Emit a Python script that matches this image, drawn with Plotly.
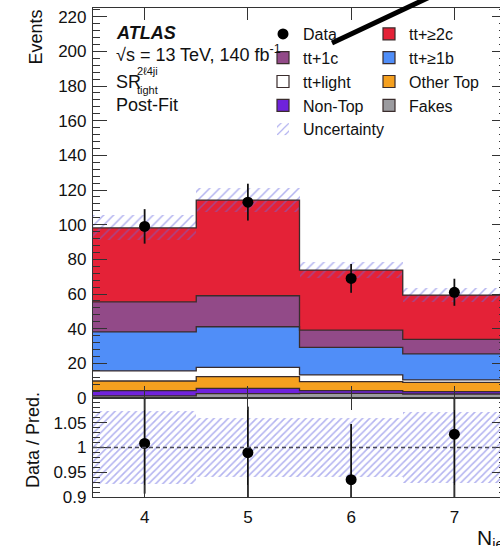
import numpy as np
import plotly.graph_objects as go

# ---------------- data ----------------
bins = [4, 5, 6, 7]
fakes = [1.2, 2.5, 2.7, 2.3]
non_top = [3.0, 3.1, 1.5, 1.4]
other_top = [5.6, 6.7, 5.2, 5.3]
tt_light = [5.8, 5.4, 3.9, 1.5]
tt_ge1b = [22.6, 23.4, 15.9, 14.9]
tt_1c = [17.2, 17.9, 10.0, 8.4]
tt_ge2c = [42.8, 55.2, 34.6, 25.6]
data = [99, 113, 69, 61]
unc_rel = [0.073, 0.060, 0.060, 0.072]

components = [
    ("Fakes", fakes, "#9B9B9F", 8),
    ("Non-Top", non_top, "#6F22DC", 7),
    ("Other Top", other_top, "#F5A01F", 6),
    ("tt+light", tt_light, "#FFFFFF", 5),
    ("tt+≥1b", tt_ge1b, "#508EF8", 4),
    ("tt+1c", tt_1c, "#924A88", 3),
    ("tt+≥2c", tt_ge2c, "#E42237", 2),
]
legend_col = {"Data": "legend", "tt+1c": "legend", "tt+light": "legend",
              "Non-Top": "legend", "Uncertainty": "legend",
              "tt+≥2c": "legend2", "tt+≥1b": "legend2", "Other Top": "legend2",
              "Fakes": "legend2"}

FONT = "Liberation Sans, Arial, Helvetica, sans-serif"
OUTLINE = "#3a2c2c"
HATCH = "rgba(105,105,225,1)"

bins_a = np.array(bins, dtype=float)
edges = np.concatenate([bins_a - 0.5, [bins_a[-1] + 0.5]])

fig = go.Figure()

cum = np.zeros(len(bins))
for name, vals, col, rank in components:
    v = np.array(vals)
    fig.add_trace(go.Bar(x=bins, y=v, base=cum.copy(), width=1,
                         marker=dict(color=col, line=dict(width=0)),
                         showlegend=False, xaxis="x", yaxis="y", hoverinfo="skip"))
    cum = cum + v
    fig.add_trace(go.Scatter(x=edges, y=np.concatenate([cum, [cum[-1]]]),
                             mode="lines", line=dict(color=OUTLINE, width=1.3, shape="hv"),
                             showlegend=False, xaxis="x", yaxis="y", hoverinfo="skip"))
    # legend proxy
    fig.add_trace(go.Bar(x=[None], y=[None], name=name,
                         marker=dict(color=col, line=dict(color=OUTLINE, width=1.2)),
                         legend=legend_col[name], legendrank=rank,
                         xaxis="x", yaxis="y"))

pred = cum
unc_abs = pred * np.array(unc_rel)
fig.add_trace(go.Bar(x=bins, y=2 * unc_abs, base=pred - unc_abs, width=1,
                     name="Uncertainty",
                     marker=dict(color="rgba(0,0,0,0)", line=dict(width=0),
                                 pattern=dict(shape="/", fgcolor=HATCH, bgcolor="rgba(0,0,0,0)",
                                              size=7, solidity=0.22)),
                     legend="legend", legendrank=9, xaxis="x", yaxis="y", hoverinfo="skip"))

d = np.array(data, dtype=float)
fig.add_trace(go.Scatter(x=bins, y=d, mode="markers", name="Data",
                         marker=dict(color="black", size=11),
                         error_y=dict(type="data", array=np.sqrt(d), color="#111", thickness=1.8, width=0),
                         legend="legend", legendrank=1, xaxis="x", yaxis="y"))

# ratio panel
ur = np.array(unc_rel)
fig.add_trace(go.Bar(x=bins, y=2 * ur, base=1 - ur, width=1, showlegend=False,
                     marker=dict(color="rgba(0,0,0,0)", line=dict(width=0),
                                 pattern=dict(shape="/", fgcolor=HATCH, bgcolor="rgba(0,0,0,0)",
                                              size=5, solidity=0.32)),
                     xaxis="x2", yaxis="y2", hoverinfo="skip"))
fig.add_trace(go.Scatter(x=bins, y=d / pred, mode="markers", showlegend=False,
                         marker=dict(color="black", size=11),
                         error_y=dict(type="data", array=np.sqrt(d) / pred, color="#111",
                                      thickness=1.8, width=0),
                         xaxis="x2", yaxis="y2"))

fig.add_shape(type="line", xref="x2 domain", yref="y2", x0=0, x1=1, y0=1, y1=1,
              line=dict(color="#4a4a5a", width=1.3, dash="4px,3px"))

# odd black stroke crossing the legend in the reference
W, H = 520, 546
L, R, T, B = 93, 14, 8, 49
pw, ph = W - L - R, H - T - B
def px(xp): return (xp - L) / pw
def py(yp): return (H - B - yp) / ph

fig.add_shape(type="line", xref="paper", yref="paper",
              x0=px(332), y0=py(43), x1=px(434), y1=py(-5),
              line=dict(color="black", width=5))

split = (H - B - 398) / ph
axis_common = dict(showline=True, linecolor="#333", linewidth=1.2, ticks="inside",
                   tickcolor="#333", tickfont=dict(family=FONT, size=17, color="#111"),
                   showgrid=False, zeroline=False, mirror="allticks")

leg_font = dict(family=FONT, size=16, color="#111")
fig.update_layout(
    width=W, height=H, margin=dict(l=L, r=R, t=T, b=B),
    paper_bgcolor="white", plot_bgcolor="white",
    barmode="overlay", bargap=0,
    font=dict(family=FONT, color="#111"),
    xaxis=dict(axis_common, domain=[0, 1], anchor="y", range=[3.5, 7.5],
               tickvals=bins, ticklen=12, showticklabels=False),
    yaxis=dict(axis_common, domain=[split, 1], anchor="x", range=[0, 225],
               tickvals=list(range(0, 221, 20)), ticklen=14, ticklabelstandoff=2,
               minor=dict(dtick=4, tick0=0, ticklen=7, ticks="inside", tickcolor="#333")),
    xaxis2=dict(axis_common, domain=[0, 1], anchor="y2", range=[3.5, 7.5], matches="x",
                tickvals=bins, ticktext=[str(b) for b in bins], ticklen=12, ticklabelstandoff=4),
    yaxis2=dict(axis_common, domain=[0, split], anchor="x2", range=[0.9, 1.1],
                tickvals=[0.9, 0.95, 1.0, 1.05], ticktext=["0.9", "0.95", "1", "1.05"],
                ticklen=14, ticklabelstandoff=2,
                minor=dict(dtick=0.01, tick0=0.9, ticklen=7, ticks="inside", tickcolor="#333")),
    legend=dict(x=px(263), y=py(17), xanchor="left", yanchor="top", orientation="v",
                font=leg_font, bgcolor="rgba(0,0,0,0)",
                itemwidth=30, traceorder="normal"),
    legend2=dict(x=px(369), y=py(17), xanchor="left", yanchor="top", orientation="v",
                 font=leg_font, bgcolor="rgba(0,0,0,0)",
                 itemwidth=30, traceorder="normal"),
)

ann = [
    dict(text="Events", x=px(35), y=1, textangle=-90, xanchor="center", yanchor="top", size=18),
    dict(text="Data / Pred.", x=px(33), y=py(440), textangle=-90, xanchor="center", yanchor="middle", size=18),
    dict(text="N<sub>jets</sub>", x=px(475), y=py(524), xanchor="left", yanchor="top", size=21),
    dict(text="<b><i>ATLAS</i></b>", x=px(114), y=py(33), xanchor="left", yanchor="middle", size=18),
    dict(text="√s = 13 TeV, 140 fb<sup>-1</sup>", x=px(114), y=py(54), xanchor="left", yanchor="middle", size=18),
    dict(text="SR", x=px(114), y=py(82), xanchor="left", yanchor="middle", size=18),
    dict(text="2ℓ4ji", x=px(135), y=py(71), xanchor="left", yanchor="middle", size=11),
    dict(text="tight", x=px(135), y=py(90), xanchor="left", yanchor="middle", size=11),
    dict(text="Post-Fit", x=px(114), y=py(105), xanchor="left", yanchor="middle", size=18),
]
for a in ann:
    size = a.pop("size")
    fig.add_annotation(**a, xref="paper", yref="paper", showarrow=False,
                       font=dict(family=FONT, size=size, color="#111"))

fig.write_html("out.html",
               post_script="document.documentElement.style.overflow='hidden';document.body.style.overflow='hidden';")
